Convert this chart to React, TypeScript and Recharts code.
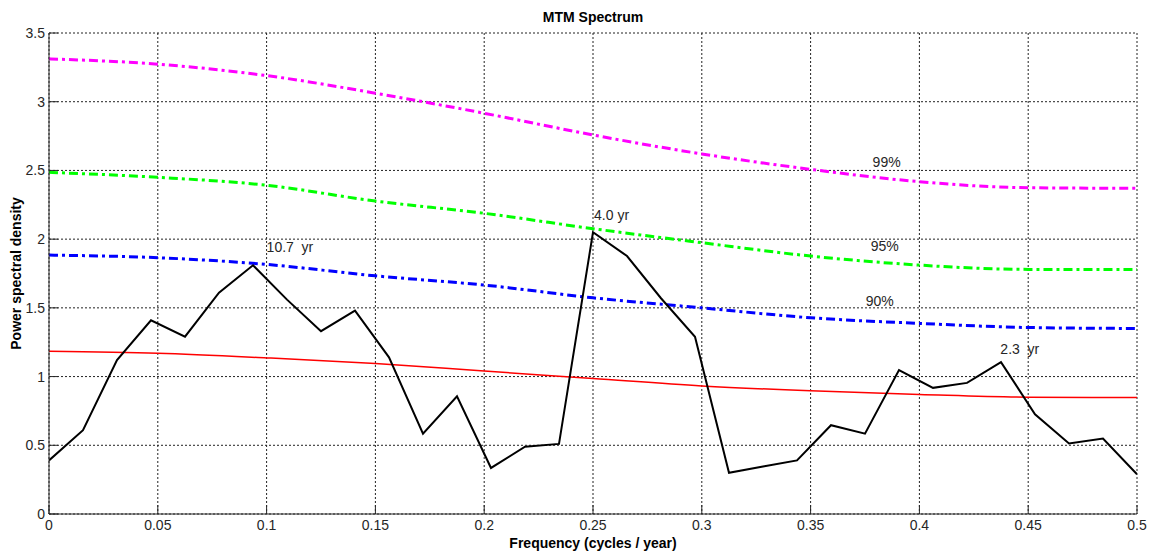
import React from 'react';
import {
    LineChart,
    Line,
    XAxis,
    YAxis,
    CartesianGrid,
    ReferenceDot
} from 'recharts';

// spectrum sampled at 1/64 cycles per year
const freqs = [
    0, 0.015625, 0.03125, 0.046875, 0.0625, 0.078125, 0.09375, 0.109375,
    0.125, 0.140625, 0.15625, 0.171875, 0.1875, 0.203125, 0.21875, 0.234375,
    0.25, 0.265625, 0.28125, 0.296875, 0.3125, 0.328125, 0.34375, 0.359375,
    0.375, 0.390625, 0.40625, 0.421875, 0.4375, 0.453125, 0.46875, 0.484375, 0.5
];
const spectrum = [
    0.39, 0.61, 1.12, 1.41, 1.29, 1.61, 1.81, 1.56,
    1.33, 1.48, 1.14, 0.585, 0.857, 0.335, 0.49, 0.51,
    2.05, 1.877, 1.57, 1.29, 0.30, 0.345, 0.39, 0.646,
    0.585, 1.047, 0.918, 0.954, 1.105, 0.726, 0.513, 0.549, 0.289
];

// confidence levels, read at 0.05 steps
const levelFreqs = [0, 0.05, 0.1, 0.15, 0.2, 0.25, 0.3, 0.35, 0.4, 0.45, 0.5];
const level99 = [3.312, 3.273, 3.19, 3.062, 2.916, 2.758, 2.62, 2.508, 2.418, 2.374, 2.37];
const level95 = [2.486, 2.45, 2.392, 2.277, 2.188, 2.076, 1.974, 1.877, 1.811, 1.78, 1.78];
const level90 = [1.884, 1.865, 1.816, 1.733, 1.666, 1.573, 1.5, 1.428, 1.387, 1.357, 1.35];
const median = [1.185, 1.17, 1.136, 1.095, 1.04, 0.986, 0.932, 0.896, 0.87, 0.85, 0.848];

const xTicks = [0, 0.05, 0.1, 0.15, 0.2, 0.25, 0.3, 0.35, 0.4, 0.45, 0.5];
const yTicks = [0, 0.5, 1, 1.5, 2, 2.5, 3, 3.5];

const noteText = ['10.7  yr', '4.0 yr', '99%', '95%', '90%', '2.3  yr'];
const noteX = [0.1, 0.2505, 0.3785, 0.3776, 0.3753, 0.4372];
const noteY = [1.94, 2.175, 2.56, 1.952, 1.549, 1.2];

const toPoints = (xs: number[], ys: number[]) => xs.map((f, i) => ({ f, v: ys[i] }));

const spectrumData = toPoints(freqs, spectrum);
const data99 = toPoints(levelFreqs, level99);
const data95 = toPoints(levelFreqs, level95);
const data90 = toPoints(levelFreqs, level90);
const dataMedian = toPoints(levelFreqs, median);

const FONT = 'Liberation Sans, Arial, Helvetica, sans-serif';
const TEXT = '#262626';
const BOX = '#262626';

const NoteShape = (text: string) => (props: any) => (
    <text
        x={props.cx}
        y={props.cy}
        fill={TEXT}
        fontSize={14}
        fontFamily={FONT}
        dominantBaseline="central"
        style={{ whiteSpace: 'pre' }}
    >
        {text}
    </text>
);

const XLabel = ({ viewBox }: any) => (
    <text
        x={viewBox.x + viewBox.width / 2}
        y={543}
        textAnchor="middle"
        dominantBaseline="central"
        fontWeight="bold"
        fontSize={14}
        fontFamily={FONT}
        fill="#000"
    >
        Frequency (cycles / year)
    </text>
);

const YLabel = ({ viewBox }: any) => {
    const cy = viewBox.y + viewBox.height / 2;
    return (
        <text
            x={16}
            y={cy}
            transform={`rotate(-90, 16, ${cy})`}
            textAnchor="middle"
            dominantBaseline="central"
            fontWeight="bold"
            fontSize={14}
            fontFamily={FONT}
            fill="#000"
        >
            Power spectral density
        </text>
    );
};

const NoTick = () => <g />;

const dashDot = '9 4 3 4';

export default function App() {
    return (
        <div style={{ position: 'absolute', left: 0, top: 0, width: 1153, height: 554, background: '#fff' }}>
            <div style={{
                position: 'absolute',
                left: 49,
                width: 1088,
                top: 8,
                textAlign: 'center',
                fontFamily: FONT,
                fontWeight: 'bold',
                fontSize: 14,
                lineHeight: '18px',
                color: '#000'
            }}>
                MTM Spectrum
            </div>
            <LineChart
                width={1153}
                height={554}
                margin={{ top: 33, right: 16, bottom: 0, left: 0 }}
                style={{ fontFamily: FONT }}
            >
                <CartesianGrid stroke="#222" strokeDasharray="2 2" strokeWidth={1} />
                <XAxis
                    dataKey="f"
                    type="number"
                    domain={[0, 0.5]}
                    ticks={xTicks}
                    allowDataOverflow
                    height={40}
                    stroke={BOX}
                    tickSize={-9}
                    tickMargin={15}
                    tick={{ fill: TEXT, fontSize: 14 }}
                    label={{ content: <XLabel /> }}
                />
                <XAxis
                    xAxisId="top"
                    orientation="top"
                    dataKey="f"
                    type="number"
                    domain={[0, 0.5]}
                    ticks={xTicks}
                    allowDataOverflow
                    height={0}
                    stroke={BOX}
                    tickSize={-9}
                    tick={NoTick}
                />
                <YAxis
                    type="number"
                    domain={[0, 3.5]}
                    ticks={yTicks}
                    allowDataOverflow
                    width={49}
                    stroke={BOX}
                    tickSize={-9}
                    tickMargin={13}
                    tick={{ fill: TEXT, fontSize: 14 }}
                    label={{ content: <YLabel /> }}
                />
                <YAxis
                    yAxisId="right"
                    orientation="right"
                    type="number"
                    domain={[0, 3.5]}
                    ticks={yTicks}
                    allowDataOverflow
                    width={0}
                    stroke={BOX}
                    tickSize={-9}
                    tick={NoTick}
                />

                <Line data={dataMedian} dataKey="v" type="monotone" stroke="#ff0000" strokeWidth={1.5}
                    dot={false} activeDot={false} isAnimationActive={false} />
                <Line data={data90} dataKey="v" type="monotone" stroke="#0000ff" strokeWidth={3}
                    strokeDasharray={dashDot} dot={false} activeDot={false} isAnimationActive={false} />
                <Line data={data95} dataKey="v" type="monotone" stroke="#00ff00" strokeWidth={3}
                    strokeDasharray={dashDot} dot={false} activeDot={false} isAnimationActive={false} />
                <Line data={data99} dataKey="v" type="monotone" stroke="#ff00ff" strokeWidth={3}
                    strokeDasharray={dashDot} dot={false} activeDot={false} isAnimationActive={false} />
                <Line data={spectrumData} dataKey="v" type="linear" stroke="#000" strokeWidth={2}
                    dot={false} activeDot={false} isAnimationActive={false} />

                {noteText.map((t, i) => (
                    <ReferenceDot key={t} x={noteX[i]} y={noteY[i]} r={0} shape={NoteShape(t)} ifOverflow="visible" />
                ))}
            </LineChart>
        </div>
    );
}
